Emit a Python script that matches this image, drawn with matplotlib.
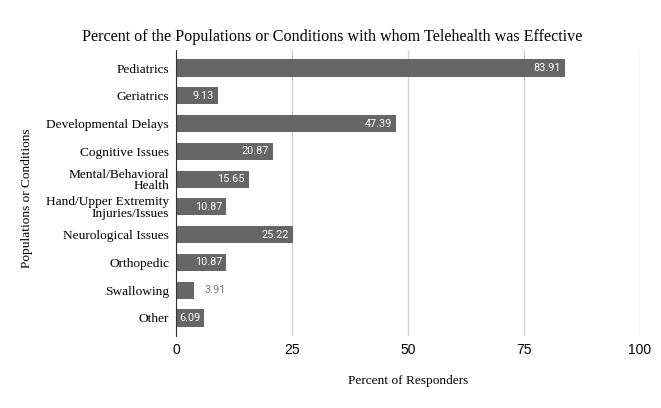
import matplotlib.pyplot as plt

# data
cats = ["Pediatrics", "Geriatrics", "Developmental Delays", "Cognitive Issues",
        "Mental/Behavioral\nHealth", "Hand/Upper Extremity\nInjuries/Issues",
        "Neurological Issues", "Orthopedic", "Swallowing", "Other"]
vals = [83.91, 9.13, 47.39, 20.87, 15.65, 10.87, 25.22, 10.87, 3.91, 6.09]
xticks = [0, 25, 50, 75, 100]

serif = "Liberation Serif"
W, H = 661, 408

fig = plt.figure(figsize=(6.61, 4.08), dpi=100)
# axes box in pixels: x 176..640, y 50..336
ax = fig.add_axes([176 / W, 1 - 336 / H, 464 / W, 286 / H])

ypos = list(range(len(cats)))
ax.barh(ypos, vals, height=0.62, color="#666666", zorder=3)

for y, v in zip(ypos, vals):
    txt = f"{v:.2f}"
    if v > 5:
        ax.text(v - 0.9, y, txt, ha="right", va="center", color="white",
                fontsize=7.8, family="Roboto", zorder=4)
    else:
        ax.text(v + 2.2, y, txt, ha="left", va="center", color="#777777",
                fontsize=7.8, family="Roboto", zorder=4)

ax.set_yticks(ypos)
ax.set_yticklabels(cats, family=serif, fontsize=9.6, linespacing=0.95)
ax.set_ylim(9.65, -0.65)
ax.set_xlim(0, 100)
ax.set_xticks(xticks)
ax.set_xticklabels([str(t) for t in xticks], family="Liberation Sans", fontsize=10)
ax.tick_params(axis="both", length=0)
ax.tick_params(axis="x", pad=5)
ax.tick_params(axis="y", pad=5)

ax.grid(axis="x", color="#d3d3d3", linewidth=1, zorder=0)
for s in ["top", "right", "bottom"]:
    ax.spines[s].set_visible(False)
ax.spines["left"].set_color("#333333")
ax.spines["left"].set_zorder(5)

fig.text(408 / W, 1 - 381 / H, "Percent of Responders", family=serif,
         fontsize=9.6, ha="center", va="center")
fig.text(27 / W, 1 - 198 / H, "Populations or Conditions", family=serif,
         fontsize=9.6, ha="center", va="center", rotation=90)
fig.text(332 / W, 1 - 37 / H,
         "Percent of the Populations or Conditions with whom Telehealth was Effective",
         family=serif, fontsize=11.6, ha="center", va="center")

fig.savefig("out.png", dpi=100)
